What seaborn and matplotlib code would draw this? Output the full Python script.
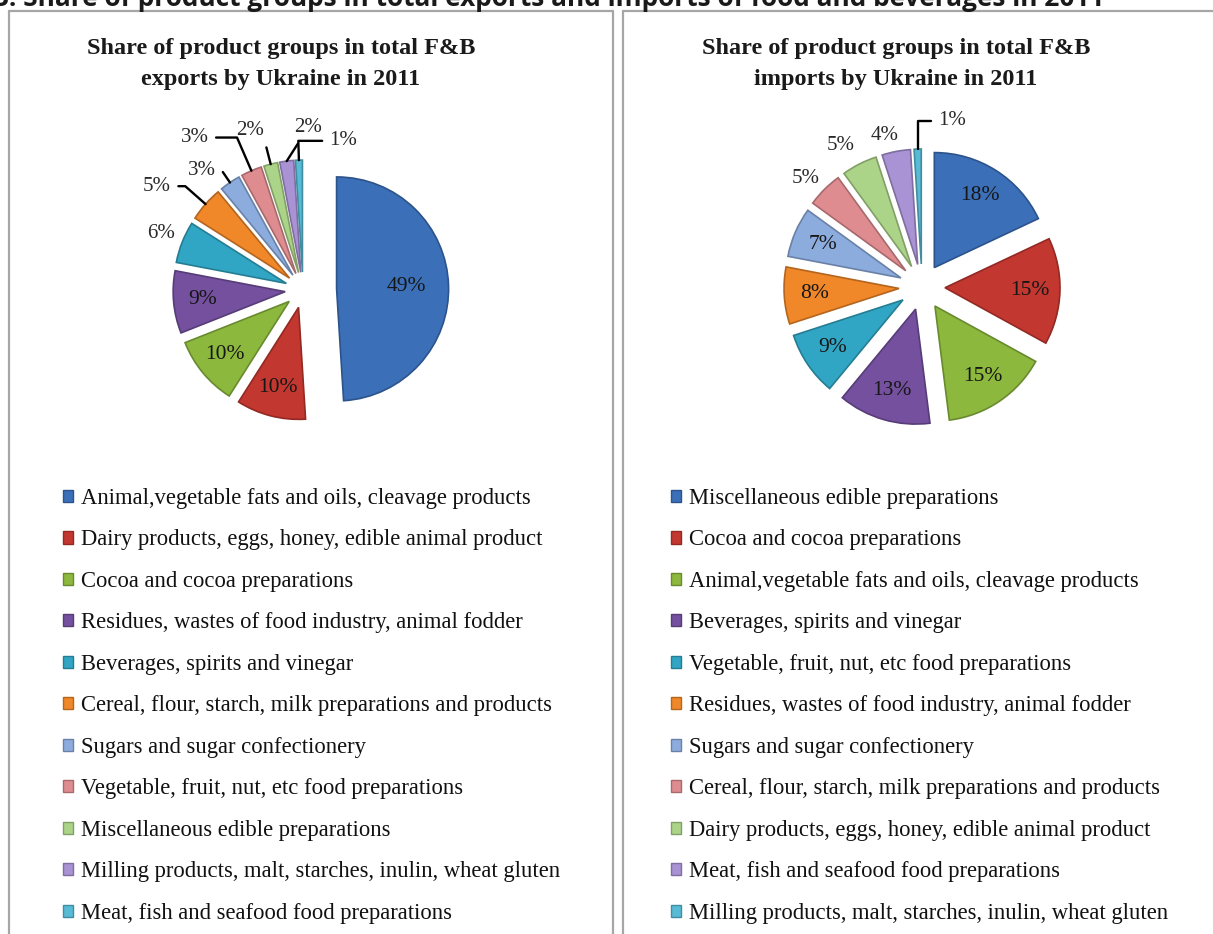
import matplotlib
matplotlib.use("Agg")
import matplotlib.pyplot as plt
import matplotlib.colors as mcolors
from matplotlib.lines import Line2D
from matplotlib.patches import Patch
import numpy as np
import seaborn as sns

# data
export_groups = [
    "Animal,vegetable fats and oils, cleavage products",
    "Dairy products, eggs, honey, edible animal product",
    "Cocoa and cocoa preparations",
    "Residues, wastes of food industry, animal fodder",
    "Beverages, spirits and vinegar",
    "Cereal, flour, starch, milk preparations and products",
    "Sugars and sugar confectionery",
    "Vegetable, fruit, nut, etc food preparations",
    "Miscellaneous edible preparations",
    "Milling products, malt, starches, inulin, wheat gluten",
    "Meat, fish and seafood food preparations",
]
export_shares = [49, 10, 10, 9, 6, 5, 3, 3, 2, 2, 1]

import_groups = [
    "Miscellaneous edible preparations",
    "Cocoa and cocoa preparations",
    "Animal,vegetable fats and oils, cleavage products",
    "Beverages, spirits and vinegar",
    "Vegetable, fruit, nut, etc food preparations",
    "Residues, wastes of food industry, animal fodder",
    "Sugars and sugar confectionery",
    "Cereal, flour, starch, milk preparations and products",
    "Dairy products, eggs, honey, edible animal product",
    "Meat, fish and seafood food preparations",
    "Milling products, malt, starches, inulin, wheat gluten",
]
import_shares = [18, 15, 15, 13, 9, 8, 7, 5, 5, 4, 1]

slice_colors = ["#3b6fb8", "#c2372f", "#8cb83e", "#74509f", "#31a6c4", "#f08728",
                "#8cacde", "#de8c90", "#acd488", "#a993d4", "#58bbd5"]

page_title = "3. Share of product groups in total exports and imports of food and beverages in 2011"
export_title = "Share of product groups in total F&B\nexports by Ukraine in 2011"
import_title = "Share of product groups in total F&B\nimports by Ukraine in 2011"

# layout for labels placed outside the pie: index -> (distance, angle shift, leader)
export_outside = {4: (1.36, 0, None), 5: (1.6, 6, "elbow"), 6: (1.4, 6, "elbow"),
                  7: (1.67, 12, "elbow"), 8: (1.5, 4, "elbow"), 9: (1.45, -9, "straight"),
                  10: (1.38, -17, "elbow")}
import_outside = {7: (1.38, 2, None), 8: (1.42, 3, None), 9: (1.36, 3, None),
                  10: (1.47, -12, "vertical")}

W, H = 1213, 934
sns.set_theme(style="white")
plt.rcParams['font.family'] = ['Liberation Serif', 'DejaVu Serif']

fig = plt.figure(figsize=(W / 100, H / 100), dpi=100)
palette = sns.color_palette(slice_colors)


def darker(c, f=0.75):
    r, g, b = mcolors.to_rgb(c)
    return (r * f, g * f, b * f)


def draw_pie(cx, cy, r_px, shares, groups, explode, outside, title, title_x, legend_x):
    half = 210
    ax = fig.add_axes([(cx - half) / W, 1 - (cy + half) / H, 2 * half / W, 2 * half / H])
    wedges, _ = ax.pie(shares, colors=palette, startangle=90, counterclock=False,
                       explode=explode, wedgeprops=dict(linewidth=1.2))
    lim = half / r_px
    ax.set_xlim(-lim, lim)
    ax.set_ylim(-lim, lim)
    ax.set_aspect('equal')
    ax.axis('off')

    for i, (w, s) in enumerate(zip(wedges, shares)):
        w.set_edgecolor(darker(palette[i]))
        mid = (w.theta1 + w.theta2) / 2
        wx, wy = w.center
        label = f"{s}%"
        if i in outside:
            dist, shift, leader = outside[i]
            a = np.deg2rad(mid + shift)
            tx, ty = dist * np.cos(a), dist * np.sin(a)
            edge = (wx + np.cos(np.deg2rad(mid)), wy + np.sin(np.deg2rad(mid)))
            if leader is None:
                ax.text(tx, ty, label, ha='center', va='center', fontsize=15, color='#2a2a2a')
            else:
                if leader == "elbow":
                    style = f"angle,angleA=0,angleB={mid:.1f},rad=0"
                elif leader == "vertical":
                    style = "angle,angleA=0,angleB=90,rad=0"
                else:
                    style = "arc3,rad=0"
                ax.annotate(label, xy=edge, xytext=(tx, ty), ha='center', va='center',
                            fontsize=15, color='#2a2a2a',
                            arrowprops=dict(arrowstyle='-', color='black', lw=1.7,
                                            connectionstyle=style, shrinkA=3, shrinkB=0))
        else:
            d = 0.62 if s > 30 else 0.74
            a = np.deg2rad(mid)
            ax.text(wx + d * np.cos(a), wy + d * np.sin(a), label, ha='center',
                    va='center', fontsize=15.5, color='#161616')

    fig.text(title_x / W, 1 - 64 / H, title, ha='center', va='center', fontsize=17.5,
             fontweight='bold', linespacing=1.6, color='#1a1a1a')

    handles = [Patch(facecolor=palette[i], edgecolor=darker(palette[i])) for i in range(len(groups))]
    fig.legend(handles, groups, loc='upper left', bbox_to_anchor=(legend_x / W, 1 - 488 / H),
               frameon=False, fontsize=16.3, handlelength=0.45, handleheight=0.45,
               handletextpad=0.35, labelspacing=0.905, borderpad=0, borderaxespad=0,
               labelcolor='#111111')


draw_pie(303, 290, 112, export_shares, export_groups,
         [0.3] + [0.16] * 10, export_outside, export_title, 281, 63)
draw_pie(922, 287, 115, import_shares, import_groups,
         [0.2] * 11, import_outside, import_title, 896, 671)

# panel frames
frame = dict(color='#a6a6a6', lw=1.6, transform=fig.transFigure)
for xs, ys in [([9, 9], [11, H]), ([9, 613], [11, 11]), ([613, 613], [11, H]),
               ([623, 623], [11, H]), ([623, W], [11, 11])]:
    fig.add_artist(Line2D([x / W for x in xs], [1 - y / H for y in ys], **frame))

# page heading, cut at the top edge like the source crop
head = fig.text(-6 / W, 1 - 6 / H, page_title, ha='left', va='baseline',
                fontfamily='Open Sans', fontweight='bold', fontsize=16, color='#1a1a1a')
renderer = fig.canvas.get_renderer()
width = head.get_window_extent(renderer).width
head.set_fontsize(16 * 1113 / width)

fig.savefig("out.png", dpi=100, facecolor='white')
